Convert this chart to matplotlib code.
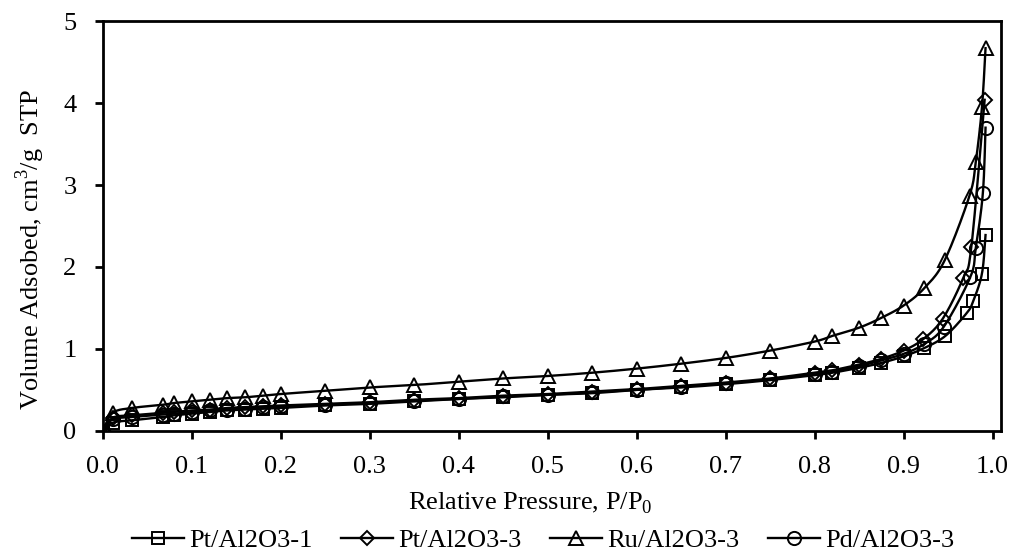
import numpy as np
import matplotlib.pyplot as plt

plt.rcParams['font.family'] = ['Liberation Serif', 'DejaVu Serif']
plt.rcParams['mathtext.fontset'] = 'custom'
plt.rcParams['mathtext.rm'] = 'Liberation Serif'

# nitrogen adsorption isotherms, relative pressure vs volume adsorbed
p_low = [0.0, 0.011, 0.033, 0.068, 0.08, 0.1, 0.12, 0.14, 0.16, 0.18, 0.2, 0.25, 0.3,
         0.35, 0.4, 0.45, 0.5, 0.55, 0.6, 0.65, 0.7, 0.75, 0.8, 0.82, 0.85, 0.875]

pt1_p = p_low + [0.9, 0.923, 0.947, 0.971, 0.978, 0.988, 0.992]
pt1_v = [0.0, 0.10, 0.13, 0.17, 0.19, 0.21, 0.23, 0.25, 0.26, 0.27, 0.28, 0.31, 0.33,
         0.36, 0.39, 0.41, 0.44, 0.46, 0.50, 0.53, 0.57, 0.62, 0.68, 0.71, 0.77, 0.83,
         0.91, 1.01, 1.16, 1.44, 1.58, 1.92, 2.39]

pt3_p = p_low + [0.9, 0.922, 0.944, 0.967, 0.976, 0.991]
pt3_v = [0.0, 0.16, 0.19, 0.22, 0.23, 0.25, 0.26, 0.28, 0.29, 0.30, 0.31, 0.33, 0.35,
         0.38, 0.40, 0.43, 0.45, 0.48, 0.51, 0.55, 0.59, 0.64, 0.71, 0.74, 0.81, 0.88,
         0.98, 1.12, 1.37, 1.87, 2.24, 4.04]

ru3_p = p_low + [0.9, 0.923, 0.946, 0.974, 0.981, 0.988, 0.992]
ru3_v = [0.0, 0.22, 0.28, 0.32, 0.34, 0.36, 0.38, 0.40, 0.41, 0.43, 0.45, 0.49, 0.53,
         0.56, 0.60, 0.64, 0.67, 0.71, 0.76, 0.82, 0.89, 0.98, 1.09, 1.16, 1.26, 1.38,
         1.53, 1.74, 2.08, 2.87, 3.28, 3.95, 4.67]

pd3_p = p_low + [0.9, 0.923, 0.945, 0.975, 0.981, 0.989, 0.992]
pd3_v = [0.0, 0.14, 0.17, 0.20, 0.21, 0.23, 0.25, 0.26, 0.27, 0.29, 0.30, 0.32, 0.34,
         0.37, 0.39, 0.42, 0.44, 0.47, 0.50, 0.54, 0.58, 0.63, 0.69, 0.72, 0.79, 0.86,
         0.94, 1.06, 1.27, 1.88, 2.23, 2.90, 3.70]

series = [
    ('Pt/Al2O3-1', pt1_p, pt1_v, 's', 9),
    ('Pt/Al2O3-3', pt3_p, pt3_v, 'D', 7.5),
    ('Ru/Al2O3-3', ru3_p, ru3_v, '^', 10.5),
    ('Pd/Al2O3-3', pd3_p, pd3_v, 'o', 9.5),
]


def smooth(x, y, n=12):
    # catmull-rom through the points, like a spreadsheet smoothed line
    x = np.asarray(x, float)
    y = np.asarray(y, float)
    px = np.concatenate([[x[0]], x, [x[-1]]])
    py = np.concatenate([[y[0]], y, [y[-1]]])
    xs, ys = [], []
    t = np.linspace(0, 1, n, endpoint=False)
    for i in range(1, len(px) - 2):
        for arr, out in ((px, xs), (py, ys)):
            p0, p1, p2, p3 = arr[i - 1], arr[i], arr[i + 1], arr[i + 2]
            out.extend(0.5 * (2 * p1 + (-p0 + p2) * t
                              + (2 * p0 - 5 * p1 + 4 * p2 - p3) * t ** 2
                              + (-p0 + 3 * p1 - 3 * p2 + p3) * t ** 3))
    xs.append(x[-1])
    ys.append(y[-1])
    return xs, ys


fs = 19
fig = plt.figure(figsize=(10.19, 5.56), dpi=100)
ax = fig.add_axes([0.101, 0.225, 0.881, 0.737])

handles = []
for name, p, v, mk, ms in series:
    sx, sy = smooth(p, v)
    ax.plot(sx, sy, color='black', lw=1.7, zorder=2)
    ax.plot(p, v, ls='none', marker=mk, ms=ms, mfc='none', mec='black', mew=1.4, zorder=3)
    h, = ax.plot([], [], color='black', lw=1.7, marker=mk, ms=ms,
                 mfc='none', mec='black', mew=1.4)
    handles.append((h, name))

ax.set_xlim(0, 1.009)
ax.set_ylim(0, 5)
ax.set_xticks(np.arange(0, 1.01, 0.1))
ax.set_xticklabels([f'{t:.1f}' for t in np.arange(0, 1.01, 0.1)])
ax.set_yticks(range(6))
ax.tick_params(direction='out', length=6, width=2, labelsize=fs)
ax.tick_params(axis='x', pad=12)
ax.tick_params(axis='y', pad=13)
for s in ax.spines.values():
    s.set_linewidth(2)

ax.set_xlabel('Relative Pressure, P/P$_0$', fontsize=fs)
ax.xaxis.set_label_coords((530 - 103) / 898, (431 - 503) / 410)
ax.xaxis.label.set_va('center')
ax.set_ylabel('Volume Adsobed, cm$^3$/g  STP', fontsize=fs)
ax.yaxis.set_label_coords((30 - 103) / 898, (431 - 249) / 410)
ax.yaxis.label.set_va('center')

fig.legend([h for h, _ in handles], [n for _, n in handles], loc='center',
           bbox_to_anchor=(543 / 1019, 1 - 540 / 556), ncol=4, frameon=False,
           fontsize=fs, handlelength=1.95, handletextpad=0.2, columnspacing=1.1,
           borderpad=0, borderaxespad=0)

fig.savefig('out.png', dpi=100)
